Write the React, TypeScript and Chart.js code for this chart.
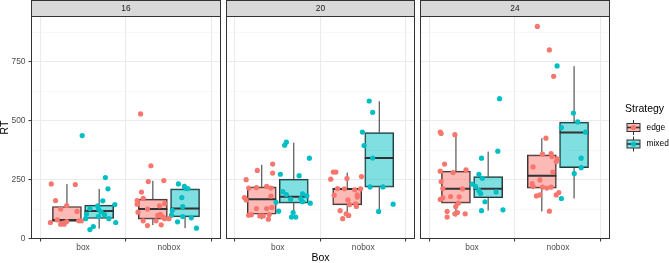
import { useEffect, useRef } from "react";
import { Chart, registerables } from "chart.js";

Chart.register(...registerables);

const FONT = '"Liberation Sans", Arial, Helvetica, sans-serif';

const facets = ["16", "20", "24"];
const boxTypes = ["box", "nobox"];
const strategies = ["edge", "mixed"];
const strategyColors = ["#F8766D", "#00BFC4"];
const strategyFills = ["rgba(248,118,109,0.5)", "rgba(0,191,196,0.5)"];
const rtTicks = [0, 250, 500, 750];
const rtMinor = [125, 375, 625, 875];
const rtMin = 0;
const rtMax = 943;

// Boxplot summaries per facet and strategy: [box, nobox], each [lower whisker, Q1, median, Q3, upper whisker]
const statsEdge16 = [[61, 73, 79, 136, 231], [57, 82, 125, 167, 245]];
const statsMixed16 = [[42, 85, 117, 142, 210], [44, 92, 127, 211, 232]];
const statsEdge20 = [[82, 103, 167, 219, 313], [87, 143, 210, 214, 280]];
const statsMixed20 = [[108, 150, 177, 252, 407], [115, 218, 342, 450, 583]];
const statsEdge24 = [[93, 150, 211, 286, 443], [115, 214, 267, 355, 426]];
const statsMixed24 = [[119, 173, 211, 263, 369], [170, 301, 450, 494, 732]];

// Individual trials: [horizontal jitter (category units), RT]
const pts16EdgeBox = [[-0.37, 232], [-0.09, 229], [-0.32, 161], [-0.19, 140], [-0.26, 125], [-0.07, 115], [-0.38, 68], [-0.3, 79], [-0.26, 61], [-0.22, 61], [-0.19, 72], [-0.05, 75], [-0.02, 75], [-0.23, 65]];
const pts16EdgeNobox = [[-0.33, 529], [-0.21, 309], [-0.24, 242], [-0.06, 246], [-0.32, 197], [-0.3, 171], [-0.37, 161], [-0.37, 146], [-0.11, 139], [-0.05, 149], [-0.36, 112], [-0.25, 125], [-0.1, 103], [-0.05, 84], [-0.15, 75], [-0.3, 75], [-0.25, 55], [-0.09, 58], [0.0, 84], [-0.07, 91], [-0.13, 98]];
const pts16MixedBox = [[-0.01, 437], [0.26, 259], [0.29, 211], [0.23, 160], [0.37, 144], [0.17, 139], [0.08, 127], [0.18, 125], [0.04, 104], [0.21, 113], [0.25, 101], [0.3, 84], [0.03, 84], [0.38, 68], [0.12, 51], [0.08, 38], [0.18, 93]];
const pts16MixedNobox = [[0.11, 232], [0.18, 221], [0.22, 212], [0.2, 212], [0.15, 174], [0.16, 135], [0.04, 120], [0.03, 99], [0.16, 93], [0.26, 88], [0.1, 71], [0.32, 44]];

const pts20EdgeBox = [[-0.06, 316], [-0.06, 278], [-0.24, 289], [-0.37, 250], [-0.34, 214], [-0.25, 216], [-0.13, 221], [-0.08, 214], [-0.39, 174], [-0.37, 164], [-0.08, 180], [-0.25, 127], [-0.13, 127], [-0.07, 132], [-0.34, 99], [-0.31, 101], [-0.21, 96], [-0.17, 96], [-0.1, 102], [-0.11, 82]];
const pts20EdgeNobox = [[-0.35, 282], [-0.32, 282], [-0.38, 252], [-0.19, 255], [-0.02, 263], [-0.3, 212], [-0.22, 211], [-0.1, 207], [-0.03, 211], [-0.34, 184], [-0.07, 185], [-0.18, 164], [-0.16, 144], [-0.09, 147], [-0.08, 136], [-0.27, 118], [-0.2, 105], [-0.17, 98], [-0.24, 84], [-0.07, 176]];
const pts20MixedBox = [[0.1, 409], [0.08, 396], [0.37, 341], [0.03, 273], [0.25, 267], [0.06, 199], [0.1, 187], [0.29, 190], [0.15, 167], [0.27, 170], [0.29, 156], [-0.02, 154], [0.38, 150], [0.01, 116], [0.18, 110], [0.16, 91], [0.21, 91], [0.34, 181]];
const pts20MixedNobox = [[0.07, 584], [0.11, 536], [-0.01, 452], [0.01, 395], [0.11, 342], [0.08, 219], [0.23, 219], [0.35, 146], [0.18, 115]];

const pts24EdgeBox = [[-0.37, 452], [-0.36, 446], [-0.2, 441], [-0.32, 316], [-0.37, 286], [-0.22, 280], [-0.07, 292], [-0.36, 242], [-0.34, 212], [-0.11, 211], [-0.37, 166], [-0.34, 173], [-0.25, 178], [-0.15, 177], [-0.16, 150], [-0.19, 136], [-0.29, 115], [-0.17, 110], [-0.08, 105], [-0.29, 91], [-0.2, 105]];
const pts24EdgeNobox = [[-0.24, 901], [-0.1, 801], [-0.05, 689], [-0.14, 426], [-0.18, 358], [-0.08, 361], [-0.07, 348], [-0.01, 338], [-0.02, 327], [-0.29, 304], [-0.06, 282], [-0.21, 249], [-0.3, 233], [-0.29, 221], [-0.18, 218], [-0.13, 214], [-0.08, 218], [-0.21, 185], [-0.25, 181], [-0.02, 185], [0.01, 195], [-0.1, 116]];
const pts24MixedBox = [[0.32, 594], [0.3, 371], [0.11, 341], [0.08, 273], [0.12, 256], [0.0, 231], [0.04, 221], [0.08, 204], [0.1, 191], [0.28, 198], [0.15, 156], [0.11, 118], [0.36, 122]];
const pts24MixedNobox = [[-0.01, 733], [0.18, 533], [0.23, 495], [0.04, 471], [0.32, 452], [0.27, 341], [0.27, 301], [0.19, 276], [0.04, 170]];

const panels = [
  { facet: facets[0], stats: [statsEdge16, statsMixed16], points: [[pts16EdgeBox, pts16EdgeNobox], [pts16MixedBox, pts16MixedNobox]] },
  { facet: facets[1], stats: [statsEdge20, statsMixed20], points: [[pts20EdgeBox, pts20EdgeNobox], [pts20MixedBox, pts20MixedNobox]] },
  { facet: facets[2], stats: [statsEdge24, statsMixed24], points: [[pts24EdgeBox, pts24EdgeNobox], [pts24MixedBox, pts24MixedNobox]] },
];

// figure geometry
const W = 669;
const H = 263;
const panelLeft = [31.5, 226.5, 420.5];
const panelRight = [220.5, 414.5, 609.5];
const panelTop = 16.5;
const xAxisHeight = 24.5;
const dodge = [-0.1875, 0.1875];
const boxHalf = 0.16875;
const DARK = "#333333";

function drawLegend(ctx: CanvasRenderingContext2D) {
  ctx.fillStyle = "#000000";
  ctx.font = `10.5px ${FONT}`;
  ctx.textAlign = "left";
  ctx.textBaseline = "middle";
  ctx.fillText("Strategy", 625, 109.5);
  strategies.forEach((name, i) => {
    const cy = 127.5 + i * 16.5;
    const cx = 633.5;
    ctx.strokeStyle = DARK;
    ctx.lineWidth = 1;
    ctx.beginPath();
    ctx.moveTo(cx, cy - 7.5);
    ctx.lineTo(cx, cy - 4);
    ctx.moveTo(cx, cy + 4);
    ctx.lineTo(cx, cy + 7.5);
    ctx.stroke();
    ctx.fillStyle = strategyFills[i];
    ctx.fillRect(627, cy - 4, 13, 8);
    ctx.strokeRect(627, cy - 4, 13, 8);
    ctx.lineWidth = 1.6;
    ctx.beginPath();
    ctx.moveTo(627, cy);
    ctx.lineTo(640, cy);
    ctx.stroke();
    ctx.fillStyle = strategyColors[i];
    ctx.beginPath();
    ctx.arc(cx, cy, 2.6, 0, Math.PI * 2);
    ctx.fill();
    ctx.fillStyle = "#000000";
    ctx.font = `8.4px ${FONT}`;
    ctx.fillText(name, 646.5, cy);
  });
}

const panelDecor = {
  id: "panelDecor",
  afterDraw(chart: any, _args: any, opts: any) {
    const { ctx, chartArea: a } = chart;
    ctx.save();
    ctx.strokeStyle = DARK;
    ctx.lineWidth = 1;
    ctx.strokeRect(a.left, a.top, a.right - a.left, a.bottom - a.top);
    const stripTop = 0.5;
    ctx.fillStyle = "#D9D9D9";
    ctx.fillRect(a.left, stripTop, a.right - a.left, a.top - stripTop);
    ctx.strokeRect(a.left, stripTop, a.right - a.left, a.top - stripTop);
    ctx.fillStyle = "#1A1A1A";
    ctx.font = `8.4px ${FONT}`;
    ctx.textAlign = "center";
    ctx.textBaseline = "middle";
    ctx.fillText(opts.label, (a.left + a.right) / 2, (stripTop + a.top) / 2 + 0.5);
    if (opts.legend) drawLegend(ctx);
    ctx.restore();
  },
};

function buildConfig(pi: number): any {
  const p = panels[pi];
  const datasets: any[] = [];

  // jittered trials
  strategies.forEach((_, si) => {
    const data: any[] = [];
    p.points[si].forEach((group, ci) =>
      group.forEach(([j, rt]) => data.push({ x: ci + 1 + j, y: rt }))
    );
    datasets.push({
      type: "scatter",
      data,
      backgroundColor: strategyColors[si],
      pointBackgroundColor: strategyColors[si],
      pointBorderWidth: 0,
      pointRadius: 2.6,
      pointHoverRadius: 2.6,
      order: 0,
    });
  });

  // medians
  strategies.forEach((_, si) => {
    const data: any[] = [];
    p.stats[si].forEach(([, , med], ci) => {
      const c = ci + 1 + dodge[si];
      data.push({ x: c - boxHalf, y: med }, { x: c + boxHalf, y: med }, { x: c, y: null });
    });
    datasets.push({
      type: "line",
      data,
      borderColor: DARK,
      borderWidth: 2,
      pointRadius: 0,
      spanGaps: false,
      fill: false,
      order: 1,
    });
  });

  // boxes (Q1 to Q3)
  strategies.forEach((_, si) => {
    datasets.push({
      type: "bar",
      data: p.stats[si].map(([, q1, , q3], ci) => ({ x: ci + 1 + dodge[si], y: [q1, q3] })),
      backgroundColor: strategyFills[si],
      borderColor: DARK,
      borderWidth: 1,
      borderSkipped: false,
      grouped: false,
      barThickness: 29,
      order: 2,
    });
  });

  // whiskers
  strategies.forEach((_, si) => {
    const data: any[] = [];
    p.stats[si].forEach(([lo, q1, , q3, hi], ci) => {
      const c = ci + 1 + dodge[si];
      data.push(
        { x: c, y: q3 }, { x: c, y: hi }, { x: c, y: null },
        { x: c, y: lo }, { x: c, y: q1 }, { x: c, y: null }
      );
    });
    datasets.push({
      type: "line",
      data,
      borderColor: DARK,
      borderWidth: 1,
      pointRadius: 0,
      spanGaps: false,
      fill: false,
      order: 3,
    });
  });

  const first = pi === 0;
  const isMajor = (v: number) => rtTicks.includes(v);

  return {
    type: "scatter",
    data: { datasets },
    options: {
      responsive: false,
      animation: false,
      events: [],
      layout: {
        padding: { left: first ? 0 : panelLeft[pi], right: W - panelRight[pi], top: panelTop, bottom: 0 },
      },
      plugins: {
        legend: { display: false },
        tooltip: { enabled: false },
        panelDecor: { label: p.facet, legend: pi === panels.length - 1 },
      },
      scales: {
        x: {
          type: "linear",
          min: 0.4,
          max: 2.6,
          offset: false,
          afterBuildTicks: (s: any) => {
            s.ticks = boxTypes.map((_, i) => ({ value: i + 1 }));
          },
          afterFit: (s: any) => {
            s.height = xAxisHeight;
          },
          ticks: {
            autoSkip: false,
            maxRotation: 0,
            padding: 1,
            color: "#4D4D4D",
            font: { family: FONT, size: 8.4 },
            callback: (_v: any, i: number) => boxTypes[i],
          },
          grid: {
            color: "#EBEBEB",
            lineWidth: 1.1,
            tickColor: DARK,
            tickLength: 3,
            tickWidth: 1,
          },
          border: { display: false },
          title: {
            display: pi === 1,
            text: "Box",
            color: "#000000",
            font: { family: FONT, size: 10.5, lineHeight: 1 },
            padding: 0,
          },
        },
        y: {
          type: "linear",
          min: rtMin,
          max: rtMax,
          afterBuildTicks: (s: any) => {
            s.ticks = [...rtTicks, ...rtMinor].sort((a, b) => a - b).map((v) => ({ value: v }));
          },
          afterFit: (s: any) => {
            s.width = first ? panelLeft[0] : 0;
          },
          ticks: {
            display: first,
            autoSkip: false,
            padding: 3,
            color: "#4D4D4D",
            font: { family: FONT, size: 8.4 },
            callback: (v: number) => (isMajor(v) ? String(v) : ""),
          },
          grid: {
            color: (c: any) => (isMajor(c.tick?.value) ? "#EBEBEB" : "#F4F4F4"),
            lineWidth: (c: any) => (isMajor(c.tick?.value) ? 1.1 : 0.6),
            drawTicks: first,
            tickLength: 3,
            tickWidth: 1,
            tickColor: (c: any) => (first && isMajor(c.tick?.value) ? DARK : "rgba(0,0,0,0)"),
          },
          border: { display: false },
          title: {
            display: first,
            text: "RT",
            color: "#000000",
            font: { family: FONT, size: 10.5, lineHeight: 1 },
            padding: 0,
          },
        },
      },
    },
    plugins: [panelDecor],
  };
}

function Panel({ index }: { index: number }) {
  const ref = useRef<HTMLCanvasElement>(null);
  useEffect(() => {
    if (!ref.current) return;
    const chart = new Chart(ref.current, buildConfig(index));
    return () => chart.destroy();
  }, [index]);
  return (
    <canvas
      ref={ref}
      width={W}
      height={H}
      style={{ position: "absolute", left: 0, top: 0, width: W, height: H }}
    />
  );
}

export default function App() {
  return (
    <div style={{ position: "fixed", left: 0, top: 0, width: W, height: H, background: "#ffffff" }}>
      {panels.map((_, i) => (
        <Panel key={i} index={i} />
      ))}
    </div>
  );
}
